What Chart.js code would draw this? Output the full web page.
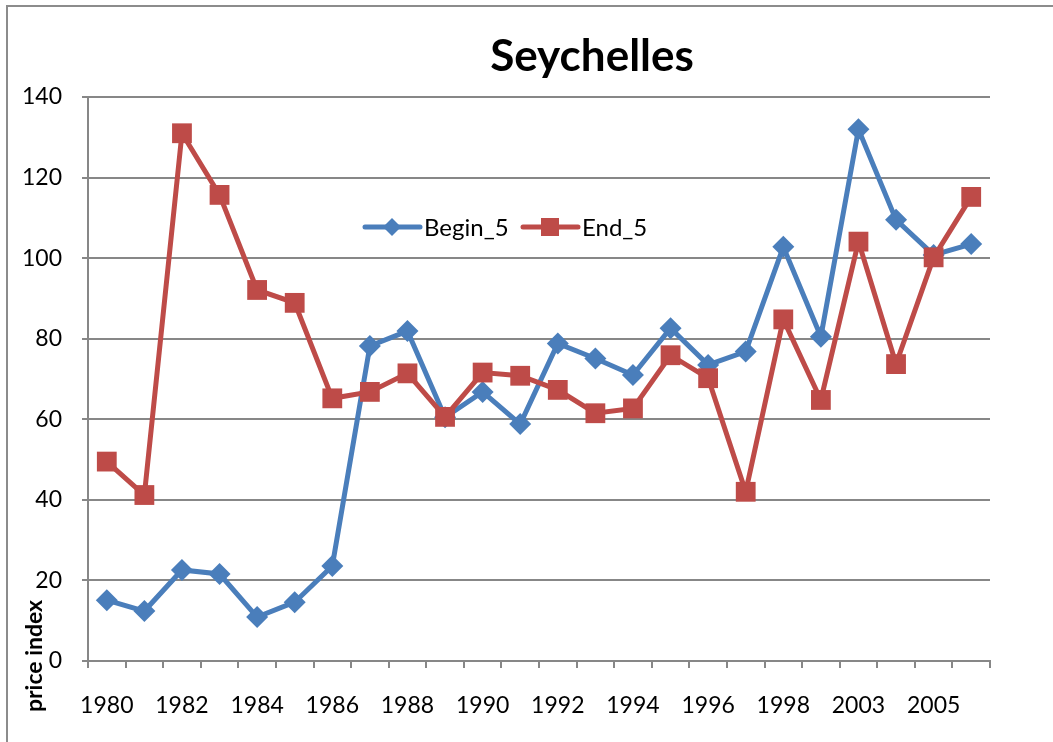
<!DOCTYPE html>
<html>
<head>
<meta charset="utf-8">
<script src="https://cdn.jsdelivr.net/npm/chart.js@4/dist/chart.umd.min.js"></script>
<style>
  html, body { margin: 0; padding: 0; background: #fff; overflow: hidden; }
  canvas { display: block; }
</style>
</head>
<body>
<canvas id="ctx" width="1053" height="742"></canvas>
<script>
'use strict';
const years = ['1980','1981','1982','1983','1984','1985','1986','1987','1988','1989',
  '1990','1991','1992','1993','1994','1995','1996','1997','1998','2001',
  '2003','2004','2005','2006'];
const begin5 = [15.1, 12.4, 22.6, 21.6, 10.9, 14.6, 23.6, 78.2, 81.9, 60.5,
  66.8, 58.8, 78.8, 75.1, 71.0, 82.6, 73.5, 76.8, 102.8, 80.5,
  132.0, 109.5, 100.8, 103.5];
const end5 = [49.5, 41.2, 131.0, 115.7, 92.1, 88.9, 65.2, 66.8, 71.4, 60.6,
  71.6, 70.8, 67.3, 61.5, 62.7, 75.9, 70.2, 42.0, 84.8, 64.8,
  104.1, 73.7, 100.2, 115.2];

const BLUE = '#4a7ebb';
const RED = '#be4b48';
const GRID = '#878787';
const FONT = 'Lato, "Open Sans", sans-serif';

// frame, title, y title and legend drawn on the canvas
const extras = {
  id: 'extras',
  afterDraw(chart) {
    const c = chart.ctx;
    c.save();
    c.strokeStyle = '#8c8c8c';
    c.lineWidth = 2;
    c.beginPath();
    c.moveTo(7, 760); c.lineTo(7, 6); c.lineTo(1070, 6);
    c.stroke();

    c.fillStyle = '#000';
    c.font = 'bold 44px ' + FONT;
    c.textAlign = 'center';
    c.textBaseline = 'middle';
    c.fillText('Seychelles', 592, 57);

    c.save();
    c.translate(35, 656);
    c.rotate(-Math.PI / 2);
    c.font = 'bold 23px ' + FONT;
    c.fillText('price index', 0, 0);
    c.restore();

    // legend
    const items = [
      {text: 'Begin_5', color: BLUE, style: 'diamond', x: 365},
      {text: 'End_5', color: RED, style: 'square', x: 523}
    ];
    const y = 227;
    items.forEach(it => {
      c.strokeStyle = it.color;
      c.lineWidth = 5;
      c.lineCap = 'round';
      c.beginPath();
      c.moveTo(it.x, y); c.lineTo(it.x + 55, y);
      c.stroke();
      c.fillStyle = it.color;
      const cx = it.x + 27;
      c.beginPath();
      if (it.style === 'diamond') {
        c.moveTo(cx, y - 9); c.lineTo(cx + 9, y); c.lineTo(cx, y + 9); c.lineTo(cx - 9, y);
      } else {
        c.rect(cx - 9, y - 9, 18, 18);
      }
      c.fill();
      c.fillStyle = '#000';
      c.font = '24px ' + FONT;
      c.textAlign = 'left';
      c.fillText(it.text, it.x + 59, y + 1);
    });
    c.restore();
  }
};

const chart = new Chart(document.getElementById('ctx'), {
  type: 'line',
  data: {
    labels: years,
    datasets: [
      {
        label: 'Begin_5',
        data: begin5,
        borderColor: BLUE,
        backgroundColor: BLUE,
        borderWidth: 5,
        pointStyle: 'rectRot',
        pointRadius: 11,
        pointBorderWidth: 0,
        order: 1
      },
      {
        label: 'End_5',
        data: end5,
        borderColor: RED,
        backgroundColor: RED,
        borderWidth: 5,
        pointStyle: 'rect',
        pointRadius: 14,
        pointBorderWidth: 0,
        order: 0
      }
    ]
  },
  options: {
    responsive: false,
    animation: false,
    layout: { padding: { left: 0, top: 97, right: 63, bottom: 0 } },
    plugins: {
      legend: { display: false },
      title: { display: false },
      tooltip: { enabled: false }
    },
    scales: {
      x: {
        offset: true,
        afterFit: s => { s.height = 81; },
        border: { color: GRID, width: 2 },
        grid: { offset: true, drawOnChartArea: false, drawTicks: true, tickLength: 7, color: GRID, lineWidth: 2 },
        ticks: {
          autoSkip: false,
          maxRotation: 0,
          padding: 24,
          color: '#000',
          font: { family: FONT, size: 23 },
          callback: function (val, idx) { return idx % 2 === 0 ? this.getLabelForValue(val) : ''; }
        }
      },
      y: {
        min: 0,
        max: 140,
        afterFit: s => { s.width = 88; },
        border: { color: GRID, width: 2 },
        grid: { color: GRID, lineWidth: 2, tickLength: 6 },
        ticks: {
          stepSize: 20,
          padding: 20,
          color: '#000',
          font: { family: FONT, size: 23 }
        }
      }
    }
  },
  plugins: [extras]
});
</script>
</body>
</html>
